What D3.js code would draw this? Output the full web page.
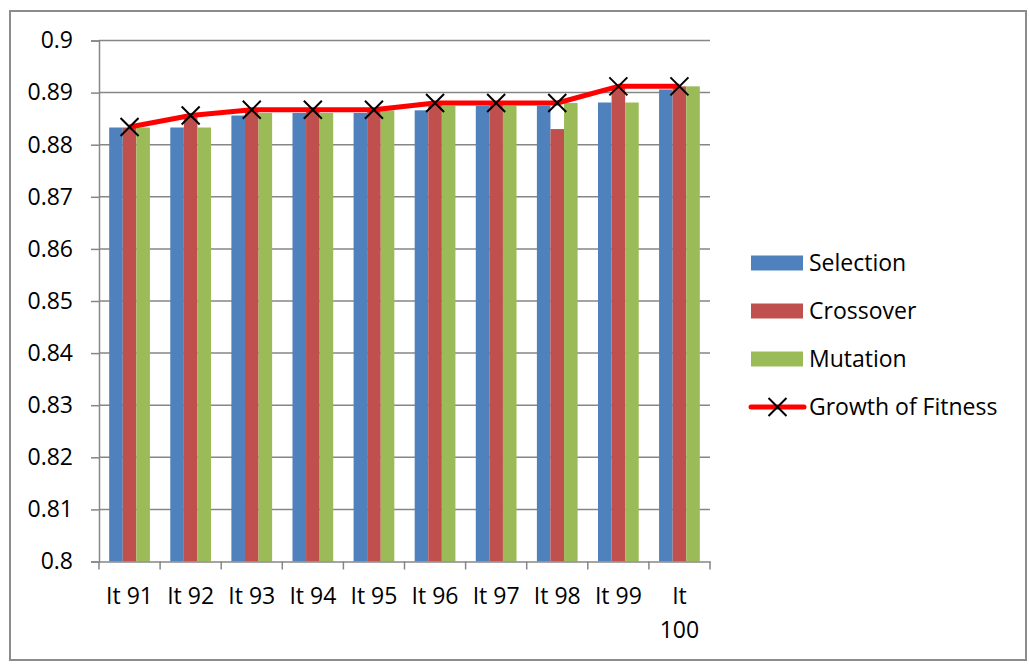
<!DOCTYPE html>
<html><head><meta charset="utf-8">
<script src="https://cdn.jsdelivr.net/npm/d3@7"></script>
<style>html,body{margin:0;padding:0;background:#fff;} svg{display:block;}</style>
</head><body>
<svg id="chart" width="1029" height="666"></svg>
<script>
const categories = ["It 91","It 92","It 93","It 94","It 95","It 96","It 97","It 98","It 99","It 100"];
const selection = [0.8833,0.8833,0.8856,0.8861,0.8861,0.8866,0.8875,0.8875,0.8881,0.8906];
const crossover = [0.8833,0.8856,0.8867,0.8867,0.8867,0.8880,0.8880,0.8830,0.8912,0.8912];
const mutation  = [0.8833,0.8833,0.8861,0.8861,0.8866,0.8875,0.8875,0.8880,0.8881,0.8912];
const growth    = [0.8834,0.8856,0.8867,0.8867,0.8867,0.8880,0.8880,0.8880,0.8912,0.8912];
const yTicks = [0.8,0.81,0.82,0.83,0.84,0.85,0.86,0.87,0.88,0.89,0.9];
const seriesNames = ["Selection","Crossover","Mutation"];
const lineName = "Growth of Fitness";

const colors = ["#4F81BD","#C0504D","#9BBB59"];
const font = "Open Sans, sans-serif";
const fs = 23;
const svg = d3.select("#chart");

// outer border with shadow
svg.append("rect").attr("x",11).attr("y",12).attr("width",1016).attr("height",649).attr("fill","#c8c8c8");
svg.append("rect").attr("x",10).attr("y",11).attr("width",1016).attr("height",649)
  .attr("fill","#fff").attr("stroke","#8c8c8c").attr("stroke-width",2);

const pLeft=99, pRight=710, pTop=40.5, pBottom=561.5;
const x = d3.scaleBand().domain(categories).range([pLeft,pRight]);
const y = d3.scaleLinear().domain([0.8,0.9]).range([pBottom,pTop]);
const bw = x.bandwidth()/4.5;
const xs = d3.scaleBand().domain(seriesNames).range([0.75*bw, 3.75*bw]);

// gridlines
svg.append("g").selectAll("line").data(yTicks.filter(d=>d>0.8)).join("line")
  .attr("x1",pLeft).attr("x2",pRight)
  .attr("y1",d=>y(d)).attr("y2",d=>y(d))
  .attr("stroke","#868686").attr("stroke-width",1.5);

// bars
const data = [selection,crossover,mutation];
seriesNames.forEach((s,i)=>{
  svg.append("g").selectAll("rect").data(categories).join("rect")
    .attr("x",(c)=>x(c)+xs(s))
    .attr("width",xs.bandwidth())
    .attr("y",(c,j)=>y(data[i][j]))
    .attr("height",(c,j)=>y(0.8)-y(data[i][j]))
    .attr("fill",colors[i]);
});

// axes
const yAxis = d3.axisLeft(y).tickValues(yTicks).tickSize(8).tickFormat(d=>String(+d.toFixed(2)));
const gy = svg.append("g").attr("transform",`translate(${pLeft},0)`).call(yAxis);
gy.select(".domain").attr("stroke","#868686").attr("stroke-width",1.5);
gy.selectAll(".tick line").attr("stroke","#868686").attr("stroke-width",1.5);
gy.selectAll(".tick text").attr("x",-26).attr("font-family",font).attr("font-size",fs).attr("fill","#000");

const xAxis = d3.axisBottom(x).tickSize(0).tickFormat("");
const gx = svg.append("g").attr("transform",`translate(0,${pBottom})`).call(xAxis);
gx.select(".domain").attr("stroke","#868686").attr("stroke-width",1.5);
// category boundary ticks
const bounds = categories.map(c=>x(c)).concat([pRight]);
svg.append("g").selectAll("line").data(bounds).join("line")
  .attr("x1",d=>d).attr("x2",d=>d).attr("y1",pBottom).attr("y2",pBottom+8)
  .attr("stroke","#868686").attr("stroke-width",1.5);
// labels
categories.forEach(c=>{
  const cx = x(c)+x.bandwidth()/2;
  const parts = c==="It 100" ? ["It","100"] : [c];
  parts.forEach((p,k)=>{
    svg.append("text").attr("x",cx).attr("y",604+k*34).attr("text-anchor","middle")
      .attr("font-family",font).attr("font-size",fs).attr("fill","#000").text(p);
  });
});

// line
const line = d3.line().x((d,i)=>x(categories[i])+x.bandwidth()/2).y(d=>y(d));
svg.append("path").datum(growth).attr("d",line).attr("fill","none")
  .attr("stroke","#FF0000").attr("stroke-width",5).attr("stroke-linejoin","round");
const m = 9;
const marker = (g,cx,cy)=>{
  g.append("path").attr("d",`M${cx-m},${cy-m}L${cx+m},${cy+m}M${cx-m},${cy+m}L${cx+m},${cy-m}`)
   .attr("stroke","#000").attr("stroke-width",2).attr("fill","none");
};
const mg = svg.append("g");
growth.forEach((d,i)=>marker(mg, x(categories[i])+x.bandwidth()/2, y(d)));

// legend
const lg = svg.append("g");
const ly = [263,311,359,407];
seriesNames.forEach((s,i)=>{
  lg.append("rect").attr("x",751).attr("y",ly[i]-7.5).attr("width",52).attr("height",15).attr("fill",colors[i]);
  lg.append("text").attr("x",809).attr("y",ly[i]).attr("dy","0.35em")
    .attr("font-family",font).attr("font-size",fs).attr("fill","#000").text(s);
});
lg.append("line").attr("x1",751).attr("x2",804).attr("y1",ly[3]).attr("y2",ly[3])
  .attr("stroke","#FF0000").attr("stroke-width",5).attr("stroke-linecap","round");
marker(lg,777.5,ly[3]);
lg.append("text").attr("x",809).attr("y",ly[3]).attr("dy","0.35em")
  .attr("font-family",font).attr("font-size",fs).attr("fill","#000").text(lineName);
</script>
</body></html>
